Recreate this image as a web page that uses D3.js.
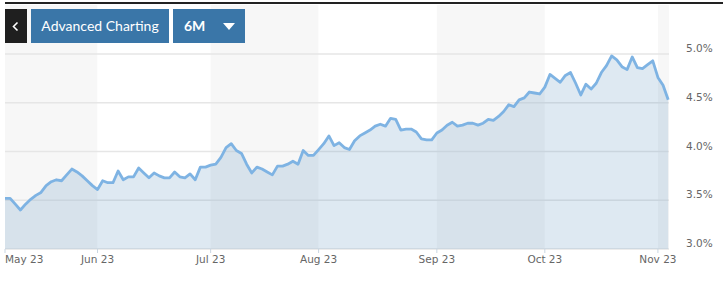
<!DOCTYPE html>
<html>
<head>
<meta charset="utf-8">
<script src="https://cdn.jsdelivr.net/npm/d3@7"></script>
<style>
  html, body { margin: 0; padding: 0; background: #fff; }
  #graphic { width: 723px; height: 288px; overflow: hidden; }
</style>
</head>
<body>
<div id="graphic"></div>
<script>
var width = 723, height = 288;

// weekday trading days, May 8 - Nov 3 2023
var startDate = "2023-05-08";
var endDate = "2023-11-03";

var yields = [
  3.52, 3.52, 3.46, 3.40, 3.46, 3.51, 3.55, 3.58, 3.65, 3.69,
  3.71, 3.70, 3.76, 3.82, 3.79, 3.75, 3.70, 3.65,
  3.61, 3.70, 3.68, 3.68, 3.80, 3.71, 3.74, 3.74, 3.83, 3.78,
  3.73, 3.78, 3.75, 3.73, 3.73, 3.79, 3.74, 3.73, 3.77, 3.71,
  3.84, 3.84,
  3.86, 3.87, 3.94, 4.04, 4.08, 4.01, 3.98, 3.87, 3.78, 3.84,
  3.82, 3.79, 3.76, 3.85, 3.85, 3.87, 3.90, 3.87, 4.01, 3.96,
  3.96,
  4.02, 4.08, 4.16, 4.06, 4.09, 4.04, 4.02, 4.11, 4.16, 4.19,
  4.22, 4.26, 4.28, 4.26, 4.34, 4.33, 4.22, 4.23, 4.23, 4.20,
  4.13, 4.12, 4.12,
  4.19, 4.22, 4.27, 4.30, 4.26, 4.27, 4.29, 4.29, 4.27, 4.29,
  4.33, 4.32, 4.36, 4.41, 4.48, 4.46, 4.53, 4.55, 4.61, 4.60,
  4.59,
  4.66, 4.79, 4.75, 4.71, 4.78, 4.81, 4.70, 4.58, 4.69, 4.64,
  4.70, 4.81, 4.88, 4.98, 4.94, 4.87, 4.84, 4.97, 4.86, 4.85,
  4.89, 4.93,
  4.76, 4.68, 4.53
];

var tickLabels = ["May 23", "Jun 23", "Jul 23", "Aug 23", "Sep 23", "Oct 23", "Nov 23"];
var yTicks = [3.0, 3.5, 4.0, 4.5, 5.0];

var parse = d3.timeParse("%Y-%m-%d");
var days = d3.timeDay.range(parse(startDate), d3.timeDay.offset(parse(endDate), 1))
  .filter(function(d) { return d.getDay() != 0 && d.getDay() != 6; });

var data = days.map(function(d, i) { return { date: d, i: i, v: yields[i] }; });

var margin = { top: 5, left: 5, right: 54, bottom: 39 };
var plotRight = width - margin.right;   // 669
var plotBottom = height - margin.bottom; // 249

var x = d3.scaleLinear().domain([0, data.length - 1]).range([margin.left, plotRight - 0.8]);
var y = d3.scaleLinear().domain([3.0, 5.0]).range([plotBottom, 54]);

// first trading day of each month
var tickIdx = [];
data.forEach(function(d, i) {
  if (i == 0 || d.date.getMonth() != data[i - 1].date.getMonth()) tickIdx.push(i);
});

var svg = d3.select("#graphic").append("svg")
  .attr("width", width)
  .attr("height", height);

// alternating month bands
var bandEdges = tickIdx.map(function(i) { return x(i); }).concat([plotRight]);
svg.append("g").selectAll("rect")
  .data(tickIdx)
  .enter().append("rect")
  .attr("x", function(d, k) { return bandEdges[k]; })
  .attr("y", margin.top)
  .attr("width", function(d, k) { return bandEdges[k + 1] - bandEdges[k]; })
  .attr("height", plotBottom - margin.top)
  .attr("fill", function(d, k) { return k % 2 == 0 ? "#f7f7f7" : "#ffffff"; });

// top dark rule
svg.append("rect")
  .attr("x", margin.left).attr("y", 2)
  .attr("width", width - margin.left).attr("height", 2)
  .attr("fill", "#222");

// gridlines
svg.append("g").selectAll("line")
  .data(yTicks)
  .enter().append("line")
  .attr("x1", margin.left).attr("x2", plotRight)
  .attr("y1", function(d) { return y(d); })
  .attr("y2", function(d) { return y(d); })
  .attr("stroke", "#e6e6e6")
  .attr("stroke-width", 1.5);

// area + line
var area = d3.area()
  .x(function(d) { return x(d.i); })
  .y0(plotBottom)
  .y1(function(d) { return y(d.v); });

var line = d3.line()
  .x(function(d) { return x(d.i); })
  .y(function(d) { return y(d.v); });

svg.append("path")
  .datum(data)
  .attr("d", area)
  .attr("fill", "#5b8fbf")
  .attr("fill-opacity", 0.2);

svg.append("path")
  .datum(data)
  .attr("d", line)
  .attr("fill", "none")
  .attr("stroke", "#7eb3e3")
  .attr("stroke-width", 2.8)
  .attr("stroke-linejoin", "round");

// x axis ticks + labels
var xAxis = svg.append("g");
xAxis.selectAll("line")
  .data(tickIdx)
  .enter().append("line")
  .attr("x1", function(d) { return x(d); })
  .attr("x2", function(d) { return x(d); })
  .attr("y1", plotBottom).attr("y2", plotBottom + 4)
  .attr("stroke", "#c9d6e2");

xAxis.selectAll("text")
  .data(tickIdx)
  .enter().append("text")
  .attr("x", function(d, k) { return k == 0 ? margin.left : x(d); })
  .attr("y", plotBottom + 14)
  .attr("text-anchor", function(d, k) { return k == 0 ? "start" : "middle"; })
  .attr("font-family", "DejaVu Sans")
  .attr("font-size", "10.5px")
  .attr("fill", "#666")
  .text(function(d, k) { return tickLabels[k]; });

// y axis labels on right
svg.append("g").selectAll("text")
  .data(yTicks)
  .enter().append("text")
  .attr("x", 686)
  .attr("y", function(d) { return y(d) - 2; })
  .attr("font-family", "DejaVu Sans")
  .attr("font-size", "10.5px")
  .attr("fill", "#666")
  .text(function(d) { return d.toFixed(1) + "%"; });

// buttons
var btns = svg.append("g");
btns.append("rect").attr("x", 5).attr("y", 9).attr("width", 22).attr("height", 34).attr("fill", "#1f1f1f");
btns.append("path").attr("d", "M17.5,22.5 L13.5,26.5 L17.5,30.5")
  .attr("fill", "none").attr("stroke", "#fff").attr("stroke-width", 1.6);

btns.append("rect").attr("x", 31).attr("y", 9).attr("width", 138).attr("height", 34).attr("fill", "#3a76a8");
btns.append("text").attr("x", 100).attr("y", 31).attr("text-anchor", "middle")
  .attr("font-family", "Lato").attr("font-size", "14px")
  .attr("fill", "#fff").text("Advanced Charting");

btns.append("rect").attr("x", 173).attr("y", 9).attr("width", 72).attr("height", 34).attr("fill", "#3a76a8");
btns.append("text").attr("x", 184).attr("y", 31)
  .attr("font-family", "Lato").attr("font-size", "14px").attr("font-weight", "bold")
  .attr("fill", "#fff").text("6M");
btns.append("path").attr("d", "M223,23 L235,23 L229,30 Z").attr("fill", "#fff");
</script>
</body>
</html>
